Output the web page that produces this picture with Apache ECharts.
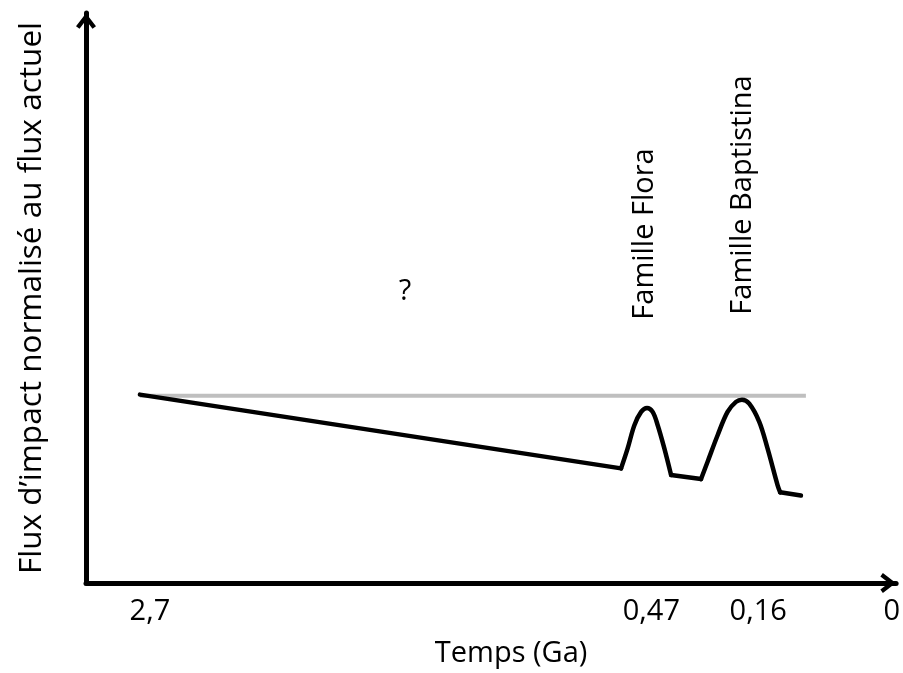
<!DOCTYPE html>
<html>
<head>
<meta charset="utf-8">
<script src="https://cdn.jsdelivr.net/npm/echarts@6/dist/echarts.min.js"></script>
<style>
html,body{margin:0;padding:0;background:#fff;}
#chart{width:903px;height:673px;}
</style>
</head>
<body>
<div id="chart"></div>
<script>
// Schematic positions (x: 0..100 along the time axis, y: 0..100 of the flux axis)
const tickPositions = [7.61, 70.2, 83.54, 100.2];
const tickLabels = ['2,7', '0,47', '0,16', '0'];

const declin = [[6.36, 33.51], [66.42, 20.39]];
const flora = [[66.42, 20.39], [67.24, 23.94], [68.08, 28.07], [68.92, 30.44], [69.66, 31.15],
               [70.36, 30.44], [70.99, 28.07], [71.82, 23.94], [72.66, 19.20]];
const entre = [[72.66, 19.20], [76.40, 18.49]];
const baptistina = [[76.40, 18.49], [77.22, 21.58], [78.47, 26.29], [79.71, 30.44], [80.76, 32.22],
                    [81.51, 32.62], [82.42, 31.91], [83.67, 28.67], [84.70, 23.94], [85.95, 17.43], [86.28, 16.13]];
const fin = [[86.28, 16.13], [88.87, 15.55]];
const fluxActuel = [[6.36, 33.33], [89.49, 33.33]];

const FONT = 'Open Sans';
const chevron = 'path://M10,0 L20,13 L16.5,15.5 L10,7 L3.5,15.5 L0,13 Z';

const chart = echarts.init(document.getElementById('chart'), null, {renderer: 'canvas'});

function blackLine(name, data, smooth) {
  return {
    name: name, type: 'line', data: data, smooth: smooth || false,
    showSymbol: false, symbol: 'none', z: 3,
    lineStyle: {color: '#000', width: 4.5, cap: 'round', join: 'round'}
  };
}

chart.setOption({
  animation: false,
  backgroundColor: '#fff',
  grid: {left: 86, right: 6, top: 13, bottom: 88, containLabel: false},
  xAxis: {
    type: 'value', min: -0.37, max: 100.75,
    name: 'Temps (Ga)', nameLocation: 'middle', nameGap: 56,
    nameTextStyle: {fontFamily: FONT, fontSize: 29, color: '#000', padding: [0, 0, 0, 40]},
    axisLine: {show: true, onZero: false, symbol: ['none', chevron], symbolSize: [20, 16], symbolOffset: [0, -8],
               lineStyle: {color: '#000', width: 5}},
    axisTick: {show: false},
    splitLine: {show: false},
    axisLabel: {
      show: true, customValues: tickPositions, margin: 14,
      fontFamily: FONT, fontSize: 29, color: '#000', lineHeight: 29,
      formatter: function (v) {
        const i = tickPositions.findIndex(p => Math.abs(p - v) < 1e-6);
        return i >= 0 ? tickLabels[i] : '';
      }
    }
  },
  yAxis: {
    type: 'value', min: 0, max: 101.4,
    name: 'Flux d\u2019impact normalisé au flux actuel', nameLocation: 'middle', nameGap: 38,
    nameTextStyle: {fontFamily: FONT, fontSize: 31.5, color: '#000'},
    axisLine: {show: true, onZero: false, symbol: ['none', chevron], symbolSize: [20, 16], symbolOffset: [0, -8],
               lineStyle: {color: '#000', width: 5}},
    axisTick: {show: false},
    splitLine: {show: false},
    axisLabel: {show: false}
  },
  series: [
    {
      name: 'Flux actuel', type: 'line', data: fluxActuel, showSymbol: false, symbol: 'none', z: 2,
      lineStyle: {color: '#bfbfbf', width: 4}
    },
    blackLine('Déclin', declin),
    blackLine('Famille Flora', flora, 0.35),
    blackLine('Entre', entre),
    blackLine('Famille Baptistina', baptistina, 0.35),
    blackLine('Fin', fin)
  ],
  graphic: [
    {type: 'text', x: 405, y: 292, style: {text: '?', font: '29px "' + FONT + '"', fill: '#000', textAlign: 'center', textVerticalAlign: 'middle'}},
    {type: 'text', x: 645, y: 234, rotation: Math.PI / 2, style: {text: 'Famille Flora', font: '29px "' + FONT + '"', fill: '#000', textAlign: 'center', textVerticalAlign: 'middle'}},
    {type: 'text', x: 743, y: 195, rotation: Math.PI / 2, style: {text: 'Famille Baptistina', font: '29px "' + FONT + '"', fill: '#000', textAlign: 'center', textVerticalAlign: 'middle'}}
  ]
});
</script>
</body>
</html>
